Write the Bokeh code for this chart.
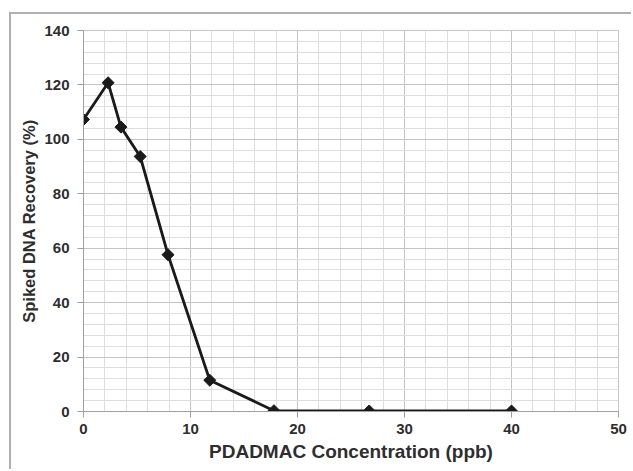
import math
from bokeh.plotting import figure
from bokeh.models import SingleIntervalTicker, Range1d
from bokeh.embed import file_html
from bokeh.resources import INLINE

conc_ppb = [0, 2.3, 3.5, 5.3, 7.9, 11.8, 17.8, 26.7, 40.0]
recovery_pct = [107.3, 120.8, 104.5, 93.7, 57.6, 11.5, 0.3, 0.2, 0.2]

x_title = "PDADMAC Concentration (ppb)"
y_title = "Spiked DNA Recovery (%)"

p = figure(width=622, height=457, output_backend="svg", toolbar_location=None,
           x_range=Range1d(0, 50), y_range=Range1d(0, 140),
           min_border_left=72, min_border_right=15, min_border_top=16, min_border_bottom=60)
p.margin = (12, 0, 0, 9)
p.styles = {"border-top": "2px solid #b0b0b0", "border-left": "2px solid #b0b0b0"}

p.background_fill_color = "white"
p.border_fill_color = "white"
p.outline_line_color = "#c8c8c8"

p.xaxis.ticker = SingleIntervalTicker(interval=10, num_minor_ticks=5)
p.yaxis.ticker = SingleIntervalTicker(interval=20, num_minor_ticks=5)

for ax in (p.xaxis, p.yaxis):
    ax.axis_line_color = "#a0a0a0"
    ax.major_tick_line_color = "#a0a0a0"
    ax.major_tick_out = 6
    ax.major_tick_in = 0
    ax.minor_tick_line_color = None
    ax.major_label_text_font = "Liberation Sans"
    ax.major_label_text_font_style = "bold"
    ax.major_label_text_font_size = "15px"
    ax.major_label_text_color = "#2e2e2e"
    ax.axis_label_text_font = "Liberation Sans"
    ax.axis_label_text_font_style = "bold"
    ax.axis_label_text_color = "#2e2e2e"

p.xaxis.axis_label_text_font_size = "19px"
p.yaxis.axis_label_text_font_size = "16.5px"
p.xaxis.axis_label = x_title
p.yaxis.axis_label = y_title
p.yaxis.major_label_standoff = 8
p.xaxis.major_label_standoff = 6
p.yaxis.axis_label_standoff = 3
p.xaxis.axis_label_standoff = 4

p.xgrid.grid_line_color = "#c4c4c4"
p.ygrid.grid_line_color = "#c4c4c4"
p.xgrid.minor_grid_line_color = "#dedede"
p.ygrid.minor_grid_line_color = "#dedede"

p.line(conc_ppb, recovery_pct, line_color="#1a1a1a", line_width=2.8)
p.scatter(conc_ppb, recovery_pct, marker="square", size=8.5, angle=math.pi / 4,
          fill_color="#1a1a1a", line_color="#1a1a1a", line_width=1)

open("out.html", "w").write(file_html(p, INLINE))
